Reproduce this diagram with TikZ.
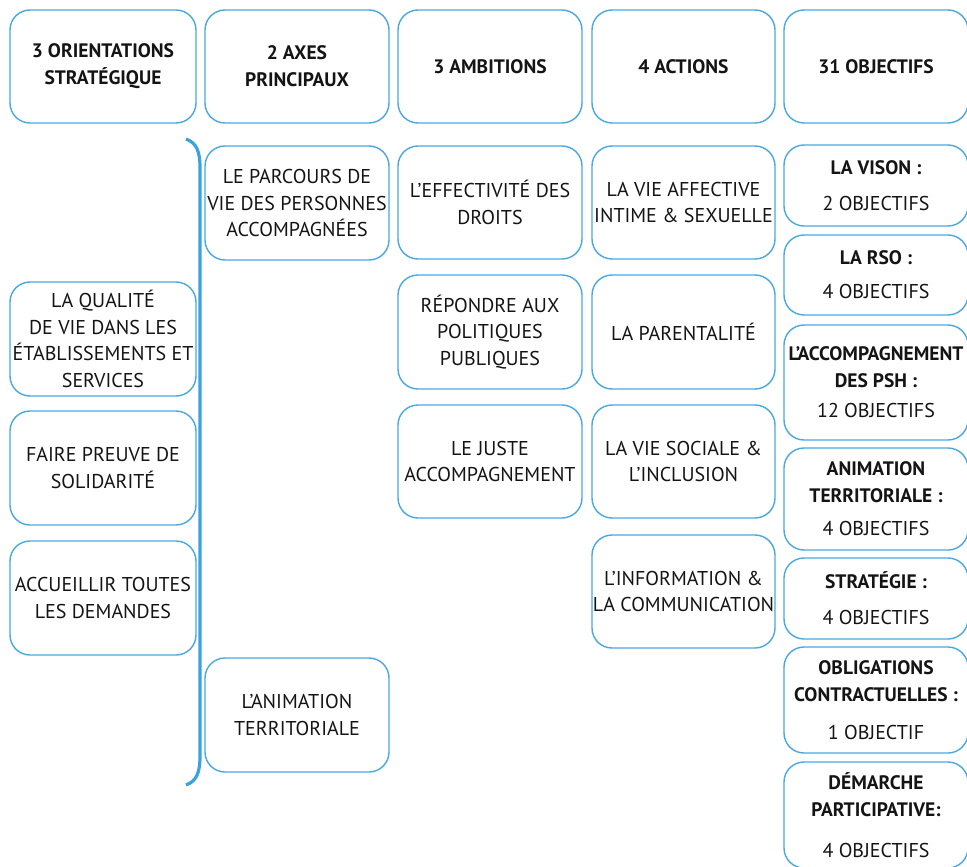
\documentclass[tikz,border=0pt]{standalone}
\usepackage{fontspec}
\setmainfont{PT Sans}
\definecolor{boxblue}{RGB}{72,168,224}
\definecolor{brblue}{RGB}{58,162,222}
\definecolor{textc}{RGB}{20,20,20}
\tikzset{
  box/.style={draw=boxblue, line width=1.4pt, rounded corners=20pt, minimum width=184pt,
    align=center, text=textc, inner sep=0pt, font=\fontsize{20}{26.5}\selectfont},
  hdr/.style={box, minimum height=113pt, font=\bfseries\fontsize{19.5}{27}\selectfont},
  objbox/.style={box, font=\fontsize{20}{27}\selectfont},
}
\newcommand{\ttl}[1]{{\bfseries\fontsize{19.5}{27}\selectfont #1}}
\begin{document}
\begin{tikzpicture}[x=1pt,y=-1pt]
\useasboundingbox (0,0) rectangle (967,867);
\clip (0,0) rectangle (967,867);
% headers
\node[hdr, minimum width=186pt] (h1) at (103,66.5) {3 ORIENTATIONS\\STRATÉGIQUE};
\node[hdr] (h2) at (297,66.5) {2 AXES\\PRINCIPAUX};
\node[hdr] (h3) at (490,66.5) {3 AMBITIONS};
\node[hdr, minimum width=183pt] (h4) at (683.5,66.5) {4 ACTIONS};
\node[hdr] (h5) at (876,66.5) {31 OBJECTIFS};
% column 1
\node[box, minimum width=186pt, minimum height=114pt] (o1) at (103,339) {LA QUALITÉ\\DE VIE DANS LES\\ÉTABLISSEMENTS ET\\SERVICES};
\node[box, minimum width=186pt, minimum height=114pt] (o2) at (103,468) {FAIRE PREUVE DE\\SOLIDARITÉ};
\node[box, minimum width=186pt, minimum height=114pt] (o3) at (103,598) {ACCUEILLIR TOUTES\\LES DEMANDES};
% bracket
\draw[brblue, line width=3.2pt] (186,139) .. controls (197,143) and (200,152) .. (200,168)
  -- (200,756) .. controls (200,772) and (197,781) .. (186,785);
% column 2
\node[box, minimum height=114pt] (a1) at (297,203) {LE PARCOURS DE\\VIE DES PERSONNES\\ACCOMPAGNÉES};
\node[box, minimum height=114pt] (a2) at (297,715) {L’ANIMATION\\TERRITORIALE};
% column 3
\node[box, minimum height=113pt] (m1) at (490,202.5) {L’EFFECTIVITÉ DES\\DROITS};
\node[box, minimum height=114pt] (m2) at (490,332) {RÉPONDRE AUX\\POLITIQUES\\PUBLIQUES};
\node[box, minimum height=113pt] (m3) at (490,461.5) {LE JUSTE\\ACCOMPAGNEMENT};
% column 4
\node[box, minimum width=183pt, minimum height=113pt] (c1) at (683.5,202.5) {LA VIE AFFECTIVE\\INTIME \& SEXUELLE};
\node[box, minimum width=183pt, minimum height=114pt] (c2) at (683.5,332) {LA PARENTALITÉ};
\node[box, minimum width=183pt, minimum height=113pt] (c3) at (683.5,461.5) {LA VIE SOCIALE \&\\L’INCLUSION};
\node[box, minimum width=183pt, minimum height=113pt] (c4) at (683.5,591.5) {L’INFORMATION \&\\LA COMMUNICATION};
% column 5
\node[objbox, minimum height=81pt] (b1) at (876,185.5) {\ttl{LA VISON :}\\[9pt]2 OBJECTIFS};
\node[objbox, minimum height=80pt] (b2) at (876,275) {\ttl{LA RSO :}\\[7pt]4 OBJECTIFS};
\node[objbox, minimum height=115pt] (b3) at (876,382.5) {\ttl{L’ACCOMPAGNEMENT}\\\ttl{DES PSH :}\\[3pt]12 OBJECTIFS};
\node[objbox, minimum height=102pt] (b4) at (876,499) {\ttl{ANIMATION}\\\ttl{TERRITORIALE :}\\[6pt]4 OBJECTIFS};
\node[objbox, minimum height=81pt] (b5) at (876,598.5) {\ttl{STRATÉGIE :}\\[9pt]4 OBJECTIFS};
\node[objbox, minimum height=106pt] (b6) at (876,700) {\ttl{OBLIGATIONS}\\\ttl{CONTRACTUELLES :}\\[11pt]1 OBJECTIF};
\node[objbox, minimum height=106pt] (b7) at (876,815) {\ttl{DÉMARCHE}\\\ttl{PARTICIPATIVE:}\\[14pt]4 OBJECTIFS};
\end{tikzpicture}
\end{document}
